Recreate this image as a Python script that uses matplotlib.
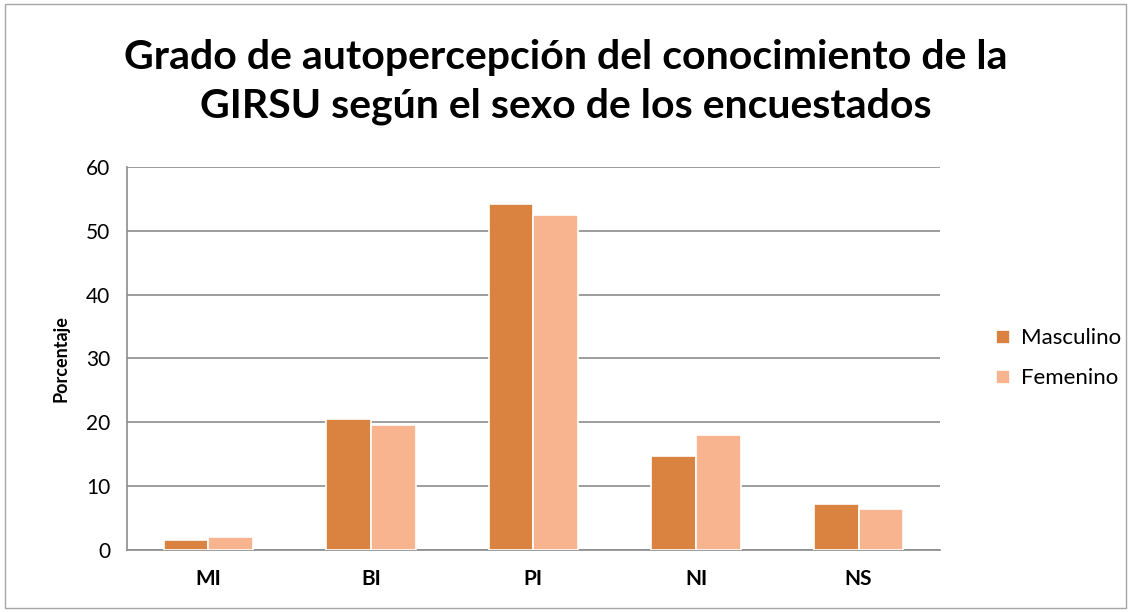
import numpy as np
import matplotlib.pyplot as plt
from matplotlib.patches import Rectangle

# Data
categories = ['MI', 'BI', 'PI', 'NI', 'NS']
masculino = [1.6, 20.5, 54.2, 14.8, 7.2]
femenino = [2.0, 19.6, 52.4, 18.0, 6.4]

plt.rcParams['font.family'] = ['Lato', 'DejaVu Sans']

fig = plt.figure(figsize=(11.31, 6.12), dpi=100)
ax = fig.add_axes([0.1123, 0.1013, 0.7187, 0.626])

x = np.arange(len(categories))
w = 0.275
ax.bar(x - w / 2, masculino, w, color='#DA8340', edgecolor='white', linewidth=1.2,
       label='Masculino', zorder=3)
ax.bar(x + w / 2, femenino, w, color='#F7B48F', edgecolor='white', linewidth=1.2,
       label='Femenino', zorder=3)

ax.set_xlim(-0.5, len(categories) - 0.5)
ax.set_ylim(0, 60)
ax.set_yticks(range(0, 61, 10))
ax.set_xticks(x)
ax.set_xticklabels(categories, fontsize=15, fontweight='bold')
ax.tick_params(axis='y', labelsize=15, length=0, pad=12)
ax.tick_params(axis='x', length=0, pad=14)
ax.yaxis.grid(True, color='#8C8C8C', linewidth=1.2, zorder=0)
for s in ['top', 'right']:
    ax.spines[s].set_visible(False)
ax.spines['left'].set_color('#8C8C8C')
ax.spines['bottom'].set_color('#8C8C8C')
ax.spines['left'].set_linewidth(1.2)
ax.spines['bottom'].set_linewidth(1.2)

ax.set_ylabel('Porcentaje', fontsize=13, fontweight='bold', labelpad=12)

fig.text(0.5, 0.866, 'Grado de autopercepción del conocimiento de la\nGIRSU según el sexo de los encuestados',
         ha='center', va='center', fontsize=29.5, fontweight='bold', linespacing=1.38)

ax.legend(loc='center left', bbox_to_anchor=(1.045, 0.5), frameon=False, fontsize=16,
          handlelength=0.6, handleheight=0.6, labelspacing=0.9, handletextpad=0.5)

fig.patches.append(Rectangle((0.004, 0.006), 0.992, 0.988, transform=fig.transFigure,
                             fill=False, edgecolor='#A6A6A6', linewidth=1))

fig.savefig('out.png', dpi=100)
